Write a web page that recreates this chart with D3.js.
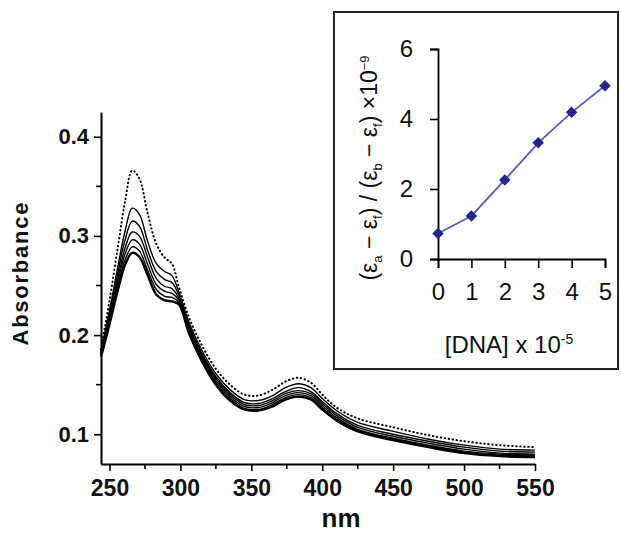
<!DOCTYPE html>
<html>
<head>
<meta charset="utf-8">
<script src="https://cdn.jsdelivr.net/npm/d3@7"></script>
<style>
  body { margin: 0; background: #fff; }
  svg { display: block; font-family: "Liberation Sans", Arial, sans-serif; }
</style>
</head>
<body>
<div class="chart"></div>
<script>
// longueurs d'onde communes (nm)
const wavelengths = [244, 250, 256, 261, 266, 271, 277, 283, 289, 294, 299, 306, 315, 325, 335, 345, 355, 365, 374, 383, 392, 400, 410, 425, 450, 475, 500, 525, 550];

// spectre du composé libre (pointillé)
const free = [0.186, 0.235, 0.290, 0.335, 0.366, 0.358, 0.322, 0.292, 0.278, 0.272, 0.248, 0.218, 0.190, 0.166, 0.150, 0.140, 0.139, 0.145, 0.153, 0.157, 0.152, 0.140, 0.127, 0.116, 0.107, 0.099, 0.093, 0.089, 0.087];
// spectres avec ADN croissant (traits pleins)
const dna1 = [0.184, 0.225, 0.270, 0.305, 0.328, 0.322, 0.294, 0.272, 0.264, 0.260, 0.243, 0.213, 0.185, 0.161, 0.145, 0.135, 0.134, 0.139, 0.147, 0.151, 0.147, 0.136, 0.124, 0.112, 0.103, 0.095, 0.089, 0.085, 0.084];
const dna2 = [0.183, 0.222, 0.264, 0.296, 0.315, 0.310, 0.285, 0.264, 0.256, 0.253, 0.240, 0.210, 0.182, 0.158, 0.142, 0.132, 0.131, 0.136, 0.143, 0.147, 0.143, 0.133, 0.121, 0.109, 0.100, 0.093, 0.087, 0.083, 0.082];
const dna3 = [0.182, 0.219, 0.258, 0.288, 0.304, 0.300, 0.278, 0.257, 0.249, 0.247, 0.237, 0.208, 0.180, 0.156, 0.140, 0.130, 0.129, 0.134, 0.141, 0.144, 0.141, 0.131, 0.119, 0.107, 0.098, 0.091, 0.085, 0.081, 0.080];
const dna4 = [0.181, 0.217, 0.254, 0.282, 0.296, 0.292, 0.271, 0.251, 0.244, 0.242, 0.235, 0.206, 0.178, 0.154, 0.138, 0.128, 0.127, 0.132, 0.139, 0.142, 0.139, 0.129, 0.117, 0.105, 0.096, 0.089, 0.083, 0.080, 0.079];
const dna5 = [0.180, 0.214, 0.250, 0.276, 0.289, 0.285, 0.265, 0.246, 0.239, 0.238, 0.233, 0.204, 0.176, 0.152, 0.136, 0.126, 0.125, 0.130, 0.137, 0.140, 0.137, 0.127, 0.115, 0.104, 0.095, 0.088, 0.082, 0.079, 0.078];
const dna6 = [0.178, 0.211, 0.246, 0.271, 0.283, 0.279, 0.260, 0.241, 0.235, 0.234, 0.231, 0.202, 0.174, 0.150, 0.134, 0.125, 0.124, 0.128, 0.135, 0.138, 0.135, 0.125, 0.114, 0.103, 0.094, 0.087, 0.081, 0.078, 0.077];

const mainXTicks = [250, 300, 350, 400, 450, 500, 550];
const mainXMinor = [275, 325, 375, 425, 475, 525];
const mainYTicks = [0.1, 0.2, 0.3, 0.4];
const mainYMinor = [0.15, 0.25, 0.35];

// encart
const dnaConc = [0, 1, 2, 3, 4, 5];
const ratio = [0.73, 1.23, 2.26, 3.32, 4.19, 4.95];
const insetXTicks = [0, 1, 2, 3, 4, 5];
const insetYTicks = [0, 2, 4, 6];

const svg = d3.select(".chart")
    .append("svg")
    .attr("width", 621)
    .attr("height", 534);

// échelles principales
const x = d3.scaleLinear().domain([244, 550]).range([101, 535]);
const y = d3.scaleLinear().domain([0.07, 0.425]).range([464, 112]);

const line = d3.line()
    .x(d => x(d[0]))
    .y(d => y(d[1]))
    .curve(d3.curveCatmullRom.alpha(0.5));

const solids = [dna1, dna2, dna3, dna4, dna5, dna6];

svg.selectAll(".spectre")
    .data(solids)
    .enter()
    .append("path")
    .attr("class", "spectre")
    .attr("d", s => line(wavelengths.map((w, i) => [w, s[i]])))
    .attr("fill", "none")
    .attr("stroke", "#000")
    .attr("stroke-width", (d, i) => i == solids.length - 1 ? 2.4 : 1.4);

svg.append("path")
    .attr("d", line(wavelengths.map((w, i) => [w, free[i]])))
    .attr("fill", "none")
    .attr("stroke", "#000")
    .attr("stroke-width", 2)
    .attr("stroke-linecap", "round")
    .attr("stroke-dasharray", "0.5,3.5");

// axes principaux
const xAxis = svg.append("g")
    .attr("transform", "translate(0,464)")
    .call(d3.axisBottom(x).tickValues(mainXTicks).tickSize(7).tickSizeOuter(0).tickFormat(d3.format("d")));
xAxis.append("g").selectAll("line")
    .data(mainXMinor)
    .enter()
    .append("line")
    .attr("x1", d => x(d)).attr("x2", d => x(d))
    .attr("y1", 0).attr("y2", 5)
    .attr("stroke", "#000");

const yAxis = svg.append("g")
    .attr("transform", "translate(101,0)")
    .call(d3.axisLeft(y).tickValues(mainYTicks).tickSize(7).tickSizeOuter(0).tickFormat(d3.format(".1f")));
yAxis.append("g").selectAll("line")
    .data(mainYMinor)
    .enter()
    .append("line")
    .attr("y1", d => y(d)).attr("y2", d => y(d))
    .attr("x1", 0).attr("x2", -5)
    .attr("stroke", "#000");

[xAxis, yAxis].forEach(a => {
    a.select(".domain").attr("stroke-width", 2);
    a.selectAll("line").attr("stroke-width", 1.6);
    a.selectAll("text")
        .attr("font-family", "Liberation Sans, Arial, sans-serif")
        .attr("font-weight", "bold")
        .attr("fill", "#111");
});
xAxis.selectAll(".tick text").attr("font-size", 23).attr("dy", "0.95em");
yAxis.selectAll(".tick text").attr("font-size", 22).attr("x", -12);

svg.append("text")
    .attr("x", 341).attr("y", 527)
    .attr("text-anchor", "middle")
    .attr("font-size", 26).attr("font-weight", "bold")
    .attr("fill", "#111")
    .text("nm");

svg.append("text")
    .attr("transform", "translate(28,274) rotate(-90)")
    .attr("text-anchor", "middle")
    .attr("font-size", 22).attr("font-weight", "bold")
    .attr("fill", "#111")
    .attr("textLength", 143)
    .text("Absorbance");

// encart
svg.append("rect")
    .attr("x", 334).attr("y", 12)
    .attr("width", 284).attr("height", 357)
    .attr("fill", "#fff")
    .attr("stroke", "#222")
    .attr("stroke-width", 2);

const ix = d3.scaleLinear().domain([0, 5]).range([438, 605]);
const iy = d3.scaleLinear().domain([0, 6]).range([259, 49]);

const ixAxis = svg.append("g")
    .attr("transform", "translate(0,259)")
    .call(d3.axisBottom(ix).tickValues(insetXTicks).tickSize(9).tickFormat(d3.format("d")));
const iyAxis = svg.append("g")
    .attr("transform", "translate(438,0)")
    .call(d3.axisLeft(iy).tickValues(insetYTicks).tickSize(8).tickFormat(d3.format("d")));

[ixAxis, iyAxis].forEach(a => {
    a.select(".domain").attr("stroke-width", 1.8);
    a.selectAll("line").attr("stroke-width", 1.6);
    a.selectAll("text")
        .attr("font-family", "Liberation Sans, Arial, sans-serif")
        .attr("font-size", 24)
        .attr("fill", "#111");
});
ixAxis.selectAll(".tick text").attr("dy", "1.2em");
iyAxis.selectAll(".tick text").attr("x", -25);

svg.append("path")
    .datum(dnaConc.map((c, i) => [c, ratio[i]]))
    .attr("d", d3.line().x(d => ix(d[0])).y(d => iy(d[1])))
    .attr("fill", "none")
    .attr("stroke", "#5a5ac0")
    .attr("stroke-width", 1.8);

svg.selectAll(".point")
    .data(dnaConc.map((c, i) => [c, ratio[i]]))
    .enter()
    .append("path")
    .attr("class", "point")
    .attr("d", d3.symbol(d3.symbolSquare, 66))
    .attr("transform", d => `translate(${ix(d[0])},${iy(d[1])}) rotate(45)`)
    .attr("fill", "#24248c");

// titre de l'axe x de l'encart
const dnaLabel = svg.append("text")
    .attr("x", 509).attr("y", 353)
    .attr("text-anchor", "middle")
    .attr("font-size", 24)
    .attr("fill", "#111");
dnaLabel.append("tspan").text("[DNA] x 10");
dnaLabel.append("tspan").attr("font-size", 14).attr("dy", -9).text("-5");

// titre de l'axe y de l'encart
const ratioLabel = svg.append("text")
    .attr("transform", "translate(377,168) rotate(-90)")
    .attr("text-anchor", "middle")
    .attr("font-size", 23)
    .attr("fill", "#111");
ratioLabel.append("tspan").text("(ε");
ratioLabel.append("tspan").attr("font-size", 13).attr("dy", 5).text("a");
ratioLabel.append("tspan").attr("dy", -5).text(" \u2212 ε");
ratioLabel.append("tspan").attr("font-size", 13).attr("dy", 5).text("f");
ratioLabel.append("tspan").attr("dy", -5).text(") / (ε");
ratioLabel.append("tspan").attr("font-size", 13).attr("dy", 5).text("b");
ratioLabel.append("tspan").attr("dy", -5).text(" \u2212 ε");
ratioLabel.append("tspan").attr("font-size", 13).attr("dy", 5).text("f");
ratioLabel.append("tspan").attr("dy", -5).text(") ×10");
ratioLabel.append("tspan").attr("font-size", 13).attr("dy", -8).text("\u22129");
</script>
</body>
</html>
